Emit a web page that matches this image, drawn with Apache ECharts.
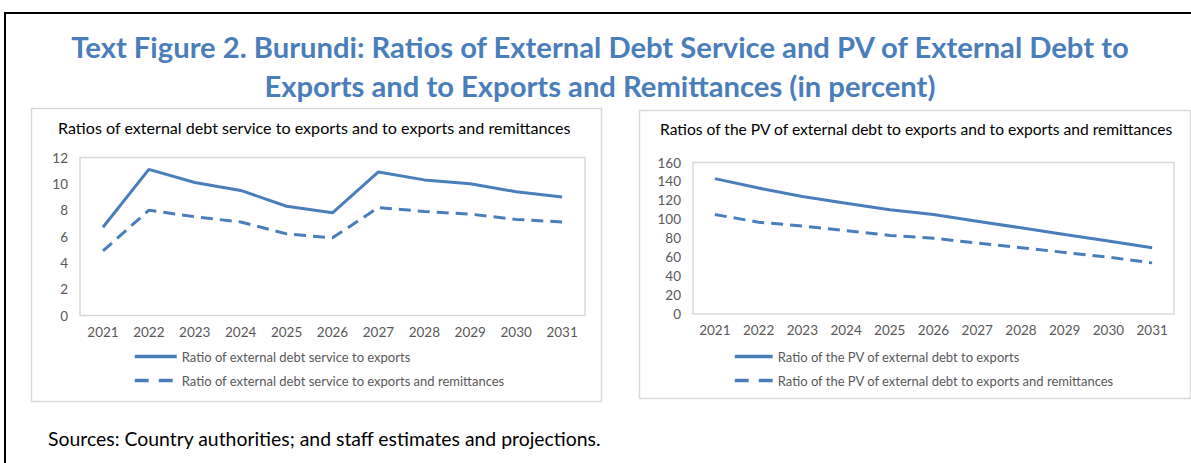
<!DOCTYPE html>
<html>
<head>
<meta charset="utf-8">
<title>Burundi external debt ratios</title>
<script src="https://cdn.jsdelivr.net/npm/echarts@6/dist/echarts.min.js"></script>
<style>
  html, body { margin: 0; padding: 0; background: #ffffff; }
  #chart { width: 1191px; height: 463px; }
</style>
</head>
<body>
<div id="chart"></div>
<script>
// Projection years shared by both panels
const years = ['2021', '2022', '2023', '2024', '2025', '2026', '2027', '2028', '2029', '2030', '2031'];

// Left panel: debt service ratios (percent)
const serviceToExports = [6.7, 11.1, 10.1, 9.5, 8.3, 7.8, 10.9, 10.3, 10.0, 9.4, 9.0];
const serviceToExportsRemit = [4.9, 8.0, 7.5, 7.1, 6.2, 5.9, 8.2, 7.9, 7.7, 7.3, 7.1];

// Right panel: PV of debt ratios (percent)
const pvToExports = [143, 133, 124, 117, 110, 105, 98, 91, 84, 77, 70];
const pvToExportsRemit = [105, 97, 93, 88, 83, 80, 75, 70, 65, 60, 54];

// Tick settings
const leftTicks = { min: 0, max: 12, interval: 2 };
const rightTicks = { min: 0, max: 160, interval: 20 };

const mainTitle = 'Text Figure 2. Burundi: Ratios of External Debt Service and PV of External Debt to\nExports and to Exports and Remittances (in percent)';
const leftTitle = 'Ratios of external debt service to exports and to exports and remittances';
const rightTitle = 'Ratios of the PV of external debt to exports and to exports and remittances';
const sourceNote = 'Sources: Country authorities; and staff estimates and projections.';

const names = {
  s1: 'Ratio of external debt service to exports',
  s2: 'Ratio of external debt service to exports and remittances',
  p1: 'Ratio of the PV of external debt to exports',
  p2: 'Ratio of the PV of external debt to exports and remittances'
};

const FONT = 'Lato, "Open Sans", sans-serif';
const BLUE = '#4a7ebb';
const AXIS_TEXT = '#595959';
const DASH = [12, 7];

function xAxisFor(gridIndex) {
  return {
    type: 'category', gridIndex: gridIndex, data: years, boundaryGap: true,
    axisLine: { show: false }, axisTick: { show: false },
    axisLabel: { color: AXIS_TEXT, fontSize: 13.5, fontFamily: FONT, margin: 9 },
    splitLine: { show: false }
  };
}
function yAxisFor(gridIndex, ticks) {
  return {
    type: 'value', gridIndex: gridIndex, min: ticks.min, max: ticks.max, interval: ticks.interval,
    axisLine: { show: false }, axisTick: { show: false },
    axisLabel: { color: AXIS_TEXT, fontSize: 13.5, fontFamily: FONT, margin: 12 },
    splitLine: { show: false }
  };
}
function lineSeries(name, data, idx, dashed) {
  return {
    name: name, type: 'line', data: data, xAxisIndex: idx, yAxisIndex: idx,
    symbol: 'none', smooth: false, silent: true,
    lineStyle: { color: BLUE, width: 3, type: dashed ? DASH : 'solid', cap: 'butt' },
    itemStyle: { color: BLUE }
  };
}
function legendFor(left, top, keyWidth, first, second) {
  return {
    orient: 'vertical', left: left, top: top, itemWidth: keyWidth, itemHeight: 14, itemGap: 11,
    selectedMode: false, padding: 0,
    // line-only keys: the marker dot is made fully transparent
    itemStyle: { opacity: 0 },
    lineStyle: { width: 3.5 },
    textStyle: { color: AXIS_TEXT, fontSize: 13, fontFamily: FONT },
    data: [
      { name: first, lineStyle: { width: 3.5 } },
      { name: second, lineStyle: { width: 3.5, type: [14, 10] } }
    ]
  };
}

const chart = echarts.init(document.getElementById('chart'), null, { renderer: 'svg' });

chart.setOption({
  backgroundColor: '#ffffff',
  animation: false,
  title: [
    {
      text: mainTitle, left: 600, top: 27, padding: 0, textAlign: 'center',
      textStyle: { color: BLUE, fontSize: 29.2, fontWeight: 'bold', fontFamily: FONT, lineHeight: 39, align: 'center' }
    },
    {
      text: leftTitle, left: 58, top: 119, padding: 0,
      textStyle: { color: '#000000', fontSize: 16.1, fontWeight: 'normal', fontFamily: FONT }
    },
    {
      text: rightTitle, left: 660, top: 121, padding: 0,
      textStyle: { color: '#000000', fontSize: 15.6, fontWeight: 'normal', fontFamily: FONT }
    }
  ],
  graphic: [
    // page frame (top and left rules)
    { type: 'line', shape: { x1: 4, y1: 13, x2: 1191, y2: 13 }, style: { stroke: '#000000', lineWidth: 2 } },
    { type: 'line', shape: { x1: 5, y1: 12, x2: 5, y2: 463 }, style: { stroke: '#000000', lineWidth: 2 } },
    // panel outlines
    { type: 'rect', shape: { x: 31.5, y: 108.5, width: 570, height: 293 }, style: { fill: 'none', stroke: '#d9d9d9', lineWidth: 1.5 } },
    { type: 'rect', shape: { x: 639.5, y: 110.5, width: 551, height: 288 }, style: { fill: 'none', stroke: '#d9d9d9', lineWidth: 1.5 } },
    // source note
    { type: 'text', left: 48, top: 429, style: { text: sourceNote, fill: '#000000', font: '19.4px ' + FONT } }
  ],
  grid: [
    { left: 80, right: 606, top: 157.5, bottom: 147.5, show: true, borderColor: '#d9d9d9', borderWidth: 1.5, backgroundColor: 'transparent' },
    { left: 693, right: 17, top: 162.5, bottom: 149, show: true, borderColor: '#d9d9d9', borderWidth: 1.5, backgroundColor: 'transparent' }
  ],
  xAxis: [xAxisFor(0), xAxisFor(1)],
  yAxis: [yAxisFor(0, leftTicks), yAxisFor(1, rightTicks)],
  legend: [
    legendFor(133, 350, 42, names.s1, names.s2),
    legendFor(733, 350, 38, names.p1, names.p2)
  ],
  series: [
    lineSeries(names.s1, serviceToExports, 0, false),
    lineSeries(names.s2, serviceToExportsRemit, 0, true),
    lineSeries(names.p1, pvToExports, 1, false),
    lineSeries(names.p2, pvToExportsRemit, 1, true)
  ]
});
</script>
</body>
</html>
